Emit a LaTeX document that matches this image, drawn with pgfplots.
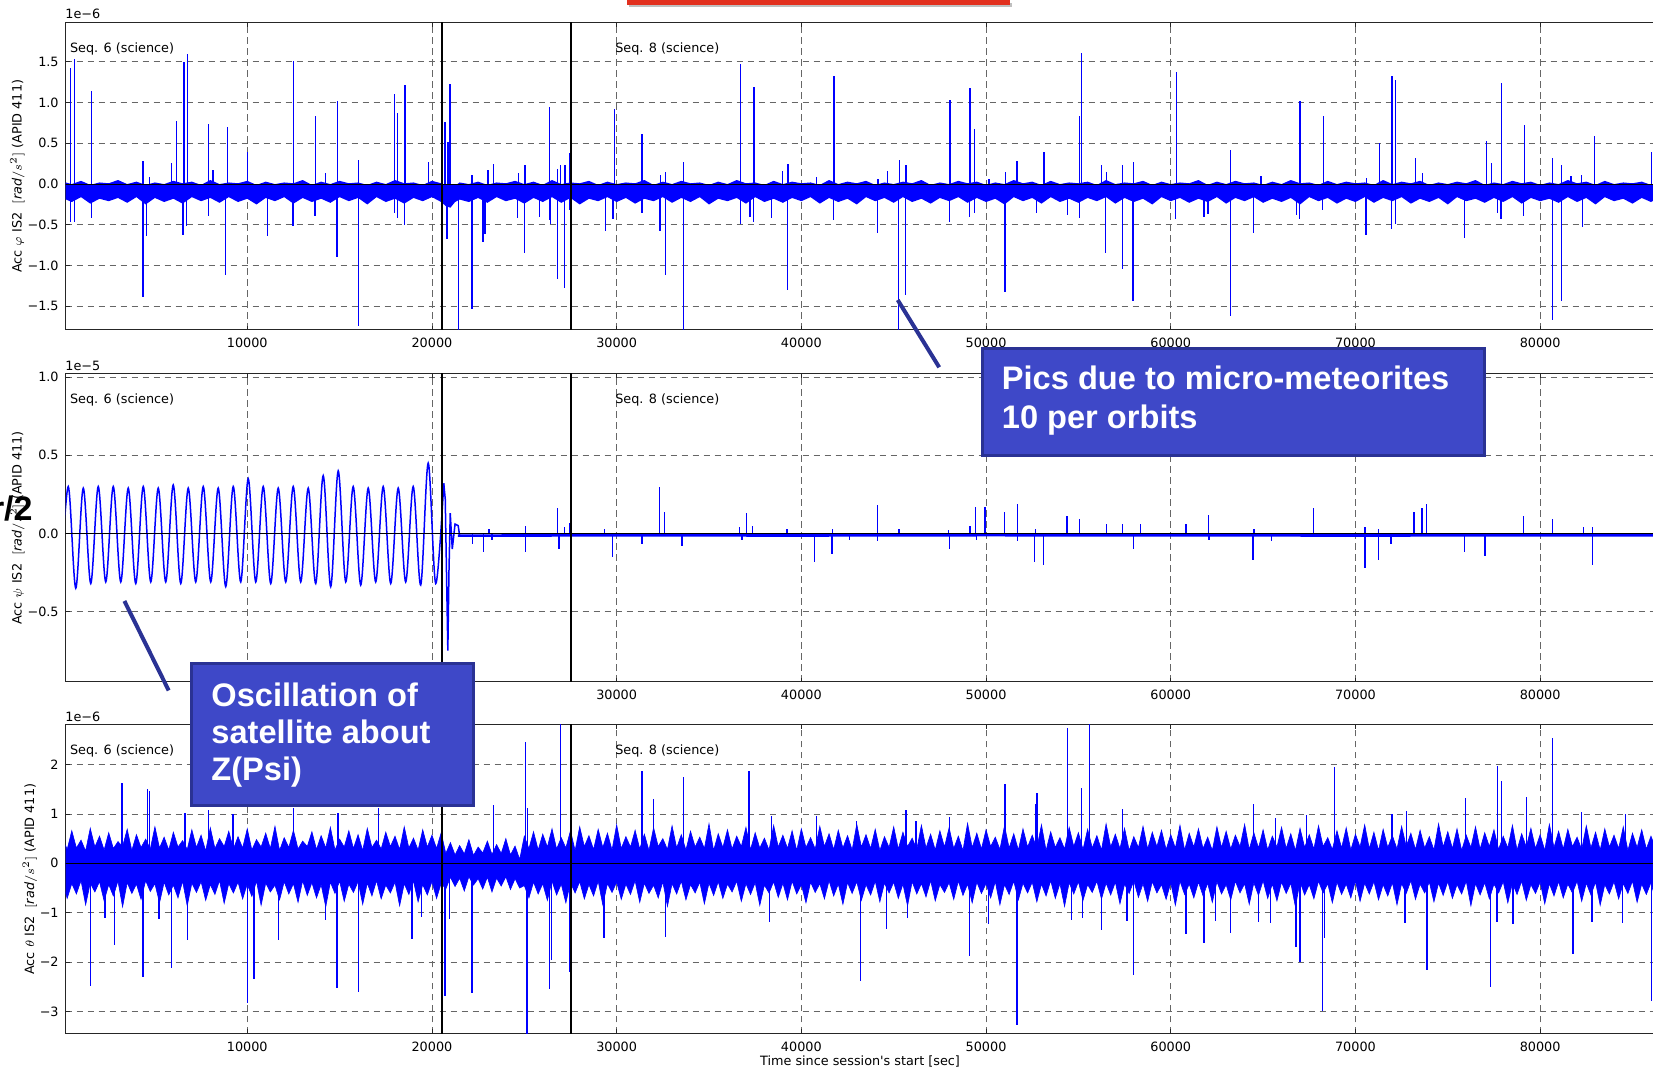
\documentclass[border=0pt]{standalone}
\usepackage{pgfplots}
\pgfplotsset{compat=1.18}
\usepackage{pgfplotstable}
\usepackage{fontspec}
\setmainfont{DejaVu Sans}
\newfontfamily\boxfont{Liberation Sans}
\definecolor{boxfill}{RGB}{62,72,200}
\definecolor{boxedge}{RGB}{42,50,148}
\definecolor{slidered}{RGB}{226,48,30}

\pgfplotstableread{
x up lo
0 0.03 -0.17
500 0.00 -0.22
1000 0.04 -0.16
1500 -0.01 -0.24
2000 0.02 -0.18
2500 0.01 -0.21
3000 0.05 -0.17
3500 0.00 -0.23
4000 0.03 -0.16
4500 -0.01 -0.25
5000 0.02 -0.17
5500 0.00 -0.22
6000 0.04 -0.18
6500 0.01 -0.24
7000 0.03 -0.16
7500 -0.01 -0.21
8000 0.05 -0.17
8500 0.00 -0.23
9000 0.02 -0.16
9500 0.01 -0.22
10000 0.04 -0.18
10500 -0.01 -0.25
11000 0.03 -0.17
11500 0.00 -0.21
12000 0.02 -0.16
12500 0.01 -0.24
13000 0.05 -0.17
13500 -0.01 -0.22
14000 0.03 -0.18
14500 0.00 -0.23
15000 0.04 -0.16
15500 0.01 -0.21
16000 0.02 -0.17
16500 -0.01 -0.25
17000 0.03 -0.16
17500 0.00 -0.22
18000 0.05 -0.18
18500 0.01 -0.24
19000 0.02 -0.17
19500 -0.01 -0.21
20000 0.04 -0.16
20500 0.01 -0.22
20750 -0.08 -0.27
21000 -0.05 -0.29
21250 -0.02 -0.22
21500 0.02 -0.19
22000 0.00 -0.22
22500 0.03 -0.17
23000 -0.01 -0.23
23500 0.02 -0.16
24000 0.01 -0.21
24500 0.04 -0.18
25000 0.00 -0.24
25500 0.03 -0.17
26000 -0.01 -0.22
26500 0.05 -0.16
27000 0.00 -0.23
27500 0.02 -0.17
28000 0.01 -0.25
28500 0.04 -0.18
29000 -0.01 -0.21
29500 0.03 -0.16
30000 0.00 -0.22
30500 0.02 -0.17
31000 0.01 -0.24
31500 0.05 -0.18
32000 -0.01 -0.21
32500 0.03 -0.16
33000 0.00 -0.23
33500 0.04 -0.17
34000 0.01 -0.22
34500 0.02 -0.16
35000 -0.01 -0.25
35500 0.03 -0.18
36000 0.00 -0.21
36500 0.05 -0.17
37000 0.01 -0.24
37500 0.02 -0.16
38000 -0.01 -0.22
38500 0.04 -0.18
39000 0.00 -0.23
39500 0.03 -0.17
40000 0.01 -0.21
40500 0.02 -0.16
41000 -0.01 -0.24
41500 0.05 -0.17
42000 0.00 -0.22
42500 0.03 -0.18
43000 0.01 -0.25
43500 0.04 -0.16
44000 -0.01 -0.21
44500 0.02 -0.17
45000 0.00 -0.23
45500 0.03 -0.16
46000 0.01 -0.22
46500 0.05 -0.18
47000 -0.01 -0.24
47500 0.02 -0.17
48000 0.00 -0.21
48500 0.04 -0.16
49000 0.01 -0.23
49500 0.03 -0.17
50000 -0.01 -0.22
50500 0.02 -0.18
51000 0.00 -0.25
51500 0.05 -0.16
52000 0.01 -0.21
52500 0.03 -0.17
53000 -0.01 -0.24
53500 0.04 -0.16
54000 0.00 -0.22
54500 0.02 -0.18
55000 0.01 -0.23
55500 0.03 -0.17
56000 -0.01 -0.21
56500 0.05 -0.16
57000 0.00 -0.24
57500 0.02 -0.17
58000 0.01 -0.22
58500 0.04 -0.18
59000 -0.01 -0.25
59500 0.03 -0.16
60000 0.00 -0.21
60500 0.02 -0.17
61000 0.01 -0.23
61500 0.05 -0.18
62000 -0.01 -0.22
62500 0.03 -0.16
63000 0.00 -0.24
63500 0.04 -0.17
64000 0.01 -0.21
64500 0.02 -0.16
65000 -0.01 -0.23
65500 0.03 -0.18
66000 0.00 -0.22
66500 0.05 -0.17
67000 0.01 -0.25
67500 0.02 -0.16
68000 -0.01 -0.21
68500 0.04 -0.17
69000 0.00 -0.24
69500 0.03 -0.18
70000 0.01 -0.22
70500 0.02 -0.16
71000 -0.01 -0.23
71500 0.05 -0.17
72000 0.00 -0.21
72500 0.03 -0.16
73000 0.01 -0.24
73500 0.04 -0.18
74000 -0.01 -0.22
74500 0.02 -0.17
75000 0.00 -0.25
75500 0.03 -0.16
76000 0.01 -0.21
76500 0.05 -0.18
77000 -0.01 -0.23
77500 0.02 -0.17
78000 0.00 -0.22
78500 0.04 -0.16
79000 0.01 -0.24
79500 0.03 -0.17
80000 -0.01 -0.21
80500 0.02 -0.18
81000 0.00 -0.23
81500 0.05 -0.16
82000 0.01 -0.22
82500 0.03 -0.17
83000 -0.01 -0.25
83500 0.04 -0.16
84000 0.00 -0.21
84500 0.02 -0.18
85000 0.01 -0.24
85500 0.03 -0.17
86000 -0.01 -0.22
86500 0.04 -0.16
87000 0.00 -0.23
}\topband

\pgfplotstableread{
x up lo
0 0.52 -0.38
250 0.28 -0.71
500 0.66 -0.41
750 0.31 -0.62
1000 0.47 -0.35
1250 0.25 -0.84
1500 0.71 -0.40
1750 0.33 -0.58
2000 0.55 -0.37
2250 0.27 -0.76
2500 0.62 -0.43
2750 0.30 -0.66
3000 0.44 -0.36
3250 0.34 -0.88
3500 0.69 -0.39
3750 0.26 -0.61
4000 0.58 -0.42
4250 0.32 -0.73
4500 0.49 -0.35
4750 0.29 -0.57
5000 0.74 -0.41
5250 0.31 -0.80
5500 0.53 -0.38
5750 0.27 -0.64
6000 0.63 -0.44
6250 0.33 -0.70
6500 0.46 -0.36
6750 0.28 -0.86
7000 0.68 -0.40
7250 0.32 -0.59
7500 0.57 -0.37
7750 0.25 -0.75
8000 0.72 -0.43
8250 0.30 -0.63
8500 0.50 -0.35
8750 0.34 -0.81
9000 0.65 -0.41
9250 0.29 -0.60
9500 0.54 -0.38
9750 0.31 -0.72
10000 0.70 -0.42
10250 0.27 -0.67
10500 0.48 -0.36
10750 0.33 -0.85
11000 0.61 -0.40
11250 0.30 -0.58
11500 0.75 -0.44
11750 0.26 -0.74
12000 0.52 -0.37
12250 0.32 -0.62
12500 0.67 -0.41
12750 0.29 -0.79
13000 0.45 -0.35
13250 0.34 -0.65
13500 0.64 -0.39
13750 0.28 -0.70
14000 0.56 -0.43
14250 0.31 -0.88
14500 0.73 -0.38
14750 0.27 -0.61
15000 0.49 -0.36
15250 0.33 -0.77
15500 0.66 -0.42
15750 0.30 -0.59
16000 0.58 -0.37
16250 0.26 -0.83
16500 0.71 -0.40
16750 0.32 -0.66
17000 0.47 -0.35
17250 0.29 -0.72
17500 0.63 -0.44
17750 0.34 -0.60
18000 0.55 -0.38
18250 0.28 -0.86
18500 0.74 -0.41
18750 0.31 -0.63
19000 0.51 -0.36
19250 0.27 -0.78
19500 0.68 -0.43
19750 0.33 -0.64
20000 0.57 -0.37
20250 0.30 -0.71
20500 0.62 -0.40
20750 0.20 -0.52
21000 0.42 -0.28
21250 0.17 -0.47
21500 0.36 -0.30
21750 0.19 -0.56
22000 0.48 -0.27
22250 0.16 -0.44
22500 0.33 -0.31
22750 0.21 -0.52
23000 0.45 -0.28
23250 0.18 -0.58
23500 0.38 -0.30
23750 0.20 -0.46
24000 0.50 -0.27
24250 0.17 -0.53
24500 0.35 -0.31
24750 0.08 -0.50
25000 0.55 -0.45
25250 0.30 -0.70
25500 0.64 -0.38
25750 0.27 -0.62
26000 0.59 -0.41
26250 0.33 -0.75
26500 0.70 -0.36
26750 0.29 -0.64
27000 0.52 -0.42
27250 0.31 -0.80
27500 0.66 -0.39
27750 0.26 -0.60
28000 0.74 -0.37
28250 0.34 -0.72
28500 0.56 -0.43
28750 0.28 -0.66
29000 0.69 -0.36
29250 0.32 -0.84
29500 0.61 -0.41
29750 0.27 -0.59
30000 0.78 -0.38
30250 0.30 -0.73
30500 0.54 -0.42
30750 0.33 -0.63
31000 0.67 -0.35
31250 0.29 -0.79
31500 0.59 -0.40
31750 0.26 -0.61
32000 0.72 -0.44
32250 0.34 -0.70
32500 0.50 -0.37
32750 0.28 -0.87
33000 0.76 -0.41
33250 0.31 -0.62
33500 0.58 -0.36
33750 0.27 -0.74
34000 0.65 -0.43
34250 0.33 -0.60
34500 0.53 -0.38
34750 0.30 -0.82
35000 0.80 -0.40
35250 0.26 -0.65
35500 0.60 -0.37
35750 0.32 -0.71
36000 0.68 -0.42
36250 0.29 -0.58
36500 0.55 -0.36
36750 0.34 -0.77
37000 0.73 -0.41
37250 0.28 -0.63
37500 0.62 -0.39
37750 0.31 -0.85
38000 0.51 -0.44
38250 0.27 -0.60
38500 0.77 -0.37
38750 0.33 -0.69
39000 0.57 -0.40
39250 0.30 -0.74
39500 0.66 -0.36
39750 0.26 -0.62
40000 0.70 -0.43
40250 0.32 -0.80
40500 0.52 -0.38
40750 0.29 -0.59
41000 0.75 -0.41
41250 0.34 -0.72
41500 0.60 -0.35
41750 0.28 -0.66
42000 0.67 -0.42
42250 0.31 -0.83
42500 0.56 -0.39
42750 0.27 -0.61
43000 0.79 -0.37
43250 0.33 -0.75
43500 0.58 -0.43
43750 0.30 -0.64
44000 0.69 -0.36
44250 0.26 -0.78
44500 0.54 -0.40
44750 0.32 -0.60
45000 0.74 -0.38
45250 0.29 -0.71
45500 0.63 -0.42
45750 0.34 -0.86
46000 0.51 -0.37
46250 0.28 -0.62
46500 0.77 -0.41
46750 0.31 -0.68
47000 0.59 -0.35
47250 0.27 -0.76
47500 0.66 -0.43
47750 0.33 -0.59
48000 0.72 -0.39
48250 0.30 -0.73
48500 0.55 -0.36
48750 0.26 -0.65
49000 0.81 -0.42
49250 0.32 -0.80
49500 0.61 -0.38
49750 0.29 -0.61
50000 0.68 -0.41
50250 0.34 -0.70
50500 0.53 -0.37
50750 0.28 -0.84
51000 0.76 -0.43
51250 0.31 -0.63
51500 0.60 -0.36
51750 0.27 -0.74
52000 0.70 -0.40
52250 0.33 -0.60
52500 0.57 -0.38
52750 0.30 -0.78
53000 0.78 -0.42
53250 0.26 -0.66
53500 0.64 -0.35
53750 0.32 -0.71
54000 0.52 -0.41
54250 0.29 -0.87
54500 0.73 -0.39
54750 0.34 -0.62
55000 0.62 -0.37
55250 0.28 -0.75
55500 0.69 -0.43
55750 0.31 -0.59
56000 0.56 -0.36
56250 0.27 -0.72
56500 0.80 -0.40
56750 0.33 -0.64
57000 0.59 -0.38
57250 0.30 -0.82
57500 0.71 -0.42
57750 0.26 -0.61
58000 0.54 -0.35
58250 0.32 -0.69
58500 0.75 -0.41
58750 0.29 -0.77
59000 0.63 -0.37
59250 0.34 -0.60
59500 0.67 -0.43
59750 0.28 -0.73
60000 0.58 -0.39
60250 0.31 -0.85
60500 0.77 -0.36
60750 0.27 -0.63
61000 0.61 -0.42
61250 0.33 -0.70
61500 0.70 -0.38
61750 0.30 -0.66
62000 0.53 -0.40
62250 0.26 -0.79
62500 0.74 -0.37
62750 0.32 -0.62
63000 0.65 -0.43
63250 0.29 -0.74
63500 0.57 -0.36
63750 0.34 -0.60
64000 0.79 -0.41
64250 0.28 -0.83
64500 0.62 -0.39
64750 0.31 -0.65
65000 0.68 -0.35
65250 0.27 -0.71
65500 0.55 -0.42
65750 0.33 -0.76
66000 0.73 -0.38
66250 0.30 -0.61
66500 0.60 -0.40
66750 0.26 -0.88
67000 0.71 -0.37
67250 0.32 -0.64
67500 0.58 -0.43
67750 0.29 -0.72
68000 0.76 -0.36
68250 0.34 -0.60
68500 0.52 -0.41
68750 0.28 -0.80
69000 0.66 -0.38
69250 0.31 -0.63
69500 0.72 -0.42
69750 0.27 -0.70
70000 0.59 -0.36
70250 0.33 -0.77
70500 0.78 -0.40
70750 0.30 -0.62
71000 0.63 -0.37
71250 0.26 -0.74
71500 0.69 -0.43
71750 0.32 -0.66
72000 0.56 -0.39
72250 0.29 -0.84
72500 0.75 -0.41
72750 0.34 -0.61
73000 0.61 -0.35
73250 0.28 -0.73
73500 0.67 -0.42
73750 0.31 -0.60
74000 0.54 -0.38
74250 0.27 -0.78
74500 0.80 -0.40
74750 0.33 -0.65
75000 0.64 -0.37
75250 0.30 -0.71
75500 0.70 -0.43
75750 0.26 -0.62
76000 0.57 -0.36
76250 0.32 -0.86
76500 0.74 -0.41
76750 0.29 -0.64
77000 0.62 -0.39
77250 0.34 -0.72
77500 0.68 -0.42
77750 0.28 -0.60
78000 0.55 -0.37
78250 0.31 -0.80
78500 0.77 -0.40
78750 0.27 -0.63
79000 0.60 -0.36
79250 0.33 -0.75
79500 0.71 -0.43
79750 0.30 -0.61
80000 0.58 -0.38
80250 0.26 -0.82
80500 0.79 -0.41
80750 0.32 -0.66
81000 0.65 -0.37
81250 0.29 -0.70
81500 0.69 -0.42
81750 0.34 -0.60
82000 0.53 -0.36
82250 0.28 -0.77
82500 0.76 -0.40
82750 0.31 -0.64
83000 0.63 -0.38
83250 0.27 -0.85
83500 0.70 -0.43
83750 0.33 -0.62
84000 0.57 -0.37
84250 0.30 -0.72
84500 0.74 -0.41
84750 0.26 -0.61
85000 0.61 -0.36
85250 0.32 -0.79
85500 0.68 -0.42
85750 0.29 -0.63
86000 0.55 -0.39
86250 0.31 -0.74
86500 0.72 -0.40
}\botband

\pgfplotsset{
  panel/.style={
    scale only axis, width=797.15pt,
    xmin=170, xmax=86490,
    scaled x ticks=false, scaled y ticks=false,
    xtick={10000,20000,30000,40000,50000,60000,70000,80000},
    xticklabels={10000,20000,30000,40000,50000,60000,70000,80000},
    grid=major,
    major grid style={black!60, line width=0.4pt, dash pattern=on 3.3pt off 2.2pt},
    axis line style={black!85, line width=0.5pt},
    tick align=inside, major tick length=2.2pt,
    tick style={black!85, line width=0.4pt},
    tick label style={font=\fontsize{6.4}{7.7}\selectfont},
    /pgf/number format/assume math mode=true,
    xticklabel style={yshift=-0.6pt},
    clip=true,
  },
  spike/.style={ycomb, blue, line width=0.65pt, mark=none},
  band/.style={fill=blue, draw=blue, line width=0.3pt, mark=none},
  tband/.style={fill=blue, draw=none, mark=none},
}

\begin{document}
\begin{tikzpicture}[x=1pt,y=1pt]

% ---------------- top panel ----------------
\begin{axis}[panel, at={(32.85pt,368.5pt)}, anchor=south west, height=153.65pt,
  ymin=-1.79, ymax=1.98,
  ytick={-1.5,-1,-0.5,0,0.5,1,1.5},
  yticklabels={−1.5,−1.0,−0.5,0.0,0.5,1.0,1.5}]
\addplot[tband] table[x=x,y=lo] {\topband} \closedcycle;
\addplot[tband] table[x=x,y=up] {\topband} \closedcycle;
\addplot[spike] coordinates {(437,1.43)(659,1.54)(1577,1.14)(4357,0.28)(4690,0.09)(5886,0.26)(6164,0.77)(6581,1.50)(6775,1.60)(7915,0.74)(8137,0.17)(8944,0.70)(10028,0.39)(12502,1.51)(13697,0.83)(14226,0.14)(14893,1.02)(16005,0.29)(17979,1.11)(18145,0.87)(18535,1.22)(19813,0.27)(20703,0.76)(20870,0.52)(20981,1.23)(22176,0.11)(23038,0.17)(23344,0.25)(24678,0.14)(25040,0.24)(26374,0.94)(26791,0.19)(26958,0.24)(27208,0.23)(27458,0.38)(29877,0.92)(31378,0.62)(32379,0.11)(32657,0.15)(33602,0.27)(36716,1.47)(37439,1.19)(38995,0.16)(39273,0.25)(40830,0.09)(41775,1.32)(44156,0.06)(44657,0.16)(45297,0.30)(45658,0.23)(48052,1.03)(49137,1.18)(49388,0.68)(50167,0.06)(51058,0.15)(51670,0.28)(53145,0.39)(55065,0.83)(55149,1.61)(56234,0.23)(56540,0.15)(57375,0.23)(57987,0.27)(60297,1.37)(63247,0.42)(64889,0.10)(67004,1.02)(68256,0.84)(70594,0.08)(71290,0.50)(71986,1.33)(72181,1.28)(73238,0.32)(73628,0.14)(77106,0.53)(77385,0.26)(77913,1.24)(79166,0.72)(80669,0.32)(81170,0.24)(81671,0.10)(82227,0.11)(82951,0.59)(86012,0.39)};
\addplot[spike] coordinates {(437,-0.46)(659,-0.47)(1549,-0.42)(4357,-1.39)(4552,-0.64)(6525,-0.62)(6720,-0.52)(7887,-0.39)(8805,-1.11)(11084,-0.64)(12474,-0.51)(13670,-0.39)(14865,-0.90)(16005,-1.74)(17979,-0.36)(18145,-0.41)(18507,-0.50)(20814,-0.67)(21426,-1.80)(22176,-1.53)(22760,-0.71)(22871,-0.61)(24623,-0.42)(25012,-0.85)(25818,-0.40)(26374,-0.44)(26430,-0.49)(26791,-1.17)(27180,-1.27)(27458,-0.32)(29377,-0.57)(29794,-0.43)(31378,-0.35)(32351,-0.58)(32629,-1.11)(33602,-1.80)(36688,-0.49)(37216,-0.40)(37411,-0.46)(38384,-0.42)(39246,-1.30)(41748,-0.44)(44128,-0.60)(45269,-1.80)(45631,-1.36)(48024,-0.47)(49109,-0.40)(49388,-0.35)(51030,-1.32)(52727,-0.36)(54397,-0.38)(55065,-0.41)(56457,-0.84)(57375,-1.04)(57959,-1.43)(60269,-0.43)(61800,-0.40)(62023,-0.37)(63219,-1.62)(64472,-0.60)(66809,-0.38)(66976,-0.43)(68201,-0.32)(70566,-0.63)(71958,-0.55)(72153,-0.49)(75910,-0.66)(77691,-0.36)(77886,-0.43)(79110,-0.39)(80669,-1.67)(81142,-1.43)(82311,-0.53)};
\addplot[black, line width=0.45pt] coordinates {(0,0) (90000,0)};
\addplot[black, line width=1pt] coordinates {(20525,-5) (20525,5)};
\addplot[black, line width=1pt] coordinates {(27525,-5) (27525,5)};
\node[anchor=west, inner sep=0, font=\fontsize{6.4}{7.7}\selectfont] at (rel axis cs:0.0025,0.916) {Seq. 6 (science)};
\node[anchor=west, inner sep=0, font=\fontsize{6.4}{7.7}\selectfont] at (rel axis cs:0.3445,0.916) {Seq. 8 (science)};
\end{axis}

% ---------------- middle panel ----------------
\begin{axis}[panel, at={(32.85pt,192.5pt)}, anchor=south west, height=154pt,
  ymin=-0.95, ymax=1.02,
  xticklabels={,,30000,40000,50000,60000,70000,80000},
  ytick={-0.5,0,0.5,1},
  yticklabels={−0.5,0.0,0.5,1.0}]
\addplot[blue, line width=0.75pt, smooth, tension=0.55] coordinates {(-97,-0.31)(309,0.30)(715,-0.35)(1121,0.29)(1527,-0.32)(1933,0.30)(2339,-0.31)(2745,0.30)(3151,-0.31)(3557,0.29)(3963,-0.32)(4369,0.30)(4775,-0.31)(5181,0.29)(5587,-0.31)(5993,0.31)(6399,-0.32)(6805,0.29)(7211,-0.31)(7617,0.30)(8023,-0.31)(8429,0.29)(8835,-0.34)(9241,0.30)(9647,-0.31)(10053,0.35)(10459,-0.31)(10865,0.30)(11271,-0.32)(11677,0.29)(12083,-0.31)(12489,0.30)(12895,-0.31)(13301,0.29)(13707,-0.32)(14113,0.37)(14519,-0.34)(14925,0.40)(15331,-0.31)(15737,0.30)(16143,-0.33)(16549,0.29)(16955,-0.31)(17361,0.30)(17767,-0.32)(18173,0.29)(18579,-0.31)(18985,0.30)(19391,-0.33)(19797,0.45)(20203,-0.32)(20640,0.32)};
\addplot[blue, line width=0.75pt] coordinates {(20640,0.32)(20720,0.22)(20860,-0.75)(20920,-0.25)(20990,0.13)(21100,-0.10)(21250,0.06)(21420,0.05)(21500,-0.015)};
\addplot[blue, line width=1.3pt] coordinates {(21400,-0.014)(25000,-0.013)(30000,-0.012)(40000,-0.013)(50000,-0.011)(60000,-0.012)(70000,-0.013)(80000,-0.012)(87000,-0.012)};
\addplot[spike] coordinates {(23083,0.03)(25047,0.05)(26798,0.16)(27182,0.04)(27438,0.07)(29360,0.03)(32306,0.30)(32605,0.14)(36661,0.04)(37046,0.13)(37344,0.05)(39223,0.03)(41700,0.03)(44134,0.18)(45287,0.03)(47977,0.02)(49130,0.05)(49429,0.17)(49941,0.17)(51008,0.14)(51692,0.19)(52674,0.03)(54382,0.11)(55065,0.09)(56517,0.06)(57371,0.06)(58353,0.06)(60829,0.06)(62025,0.12)(64502,0.03)(67747,0.16)(70522,0.04)(71248,0.03)(73170,0.14)(73597,0.16)(73853,0.19)(79105,0.11)(80685,0.09)(82350,0.04)(82820,0.04)};
\addplot[spike] coordinates {(22186,-0.07)(22784,-0.12)(23253,-0.045)(25047,-0.12)(26883,-0.10)(29787,-0.15)(31367,-0.07)(33544,-0.08)(36789,-0.04)(40718,-0.18)(41657,-0.13)(42596,-0.04)(44134,-0.05)(48020,-0.10)(49471,-0.04)(51692,-0.05)(52631,-0.18)(53101,-0.20)(57968,-0.10)(62068,-0.045)(64459,-0.17)(65441,-0.05)(70522,-0.22)(71248,-0.17)(71931,-0.07)(75902,-0.12)(77012,-0.145)(82820,-0.20)};
\addplot[black, line width=0.45pt] coordinates {(0,0) (90000,0)};
\addplot[black, line width=1pt] coordinates {(20525,-5) (20525,5)};
\addplot[black, line width=1pt] coordinates {(27525,-5) (27525,5)};
\node[anchor=west, inner sep=0, font=\fontsize{6.4}{7.7}\selectfont] at (rel axis cs:0.0025,0.916) {Seq. 6 (science)};
\node[anchor=west, inner sep=0, font=\fontsize{6.4}{7.7}\selectfont] at (rel axis cs:0.3445,0.916) {Seq. 8 (science)};
\end{axis}

% ---------------- bottom panel ----------------
\begin{axis}[panel, at={(32.85pt,16.85pt)}, anchor=south west, height=154.15pt,
  ymin=-3.44, ymax=2.80,
  ytick={-3,-2,-1,0,1,2},
  yticklabels={−3,−2,−1,0,1,2}]
\addplot[band] table[x=x,y=up] {\botband} \closedcycle;
\addplot[band] table[x=x,y=lo] {\botband} \closedcycle;
\addplot[spike] coordinates {(3217,1.63)(4607,1.50)(4690,1.47)(6636,1.02)(7915,1.08)(9222,1.0)(12502,1.13)(14921,1.01)(17117,1.13)(23316,1.18)(25068,2.46)(25179,1.12)(26958,2.85)(31378,1.87)(31990,1.30)(33602,1.75)(37161,1.87)(38384,0.96)(40830,0.96)(42987,0.86)(45658,1.08)(46215,0.86)(48024,0.93)(51030,1.60)(52672,1.21)(52755,1.43)(54397,2.73)(55149,1.53)(55594,2.85)(57375,1.09)(64472,1.21)(65668,0.92)(67338,0.98)(68869,1.95)(71986,0.99)(72765,1.06)(75966,1.33)(77691,1.97)(77913,1.66)(79249,1.35)(80669,2.53)(82227,1.04)(84620,1.0)};
\addplot[spike] coordinates {(1521,-2.49)(2301,-1.11)(2828,-1.66)(4357,-2.31)(5218,-1.12)(5886,-2.12)(6747,-1.55)(10028,-2.83)(10361,-2.34)(11696,-1.56)(14226,-1.14)(14865,-2.53)(16005,-2.61)(18924,-1.53)(19424,-1.08)(20703,-2.69)(20953,-1.13)(22176,-2.63)(25151,-3.5)(26346,-2.55)(26485,-1.95)(27458,-2.20)(29321,-1.52)(32629,-1.50)(38273,-1.19)(43220,-2.38)(44629,-1.33)(45742,-1.11)(49109,-1.87)(50139,-1.23)(51670,-3.27)(54620,-1.14)(55232,-1.10)(56262,-1.35)(57625,-1.16)(57987,-2.26)(60826,-1.43)(61800,-1.62)(62412,-1.16)(63219,-1.41)(64750,-1.19)(65418,-1.21)(66781,-1.70)(67004,-2.0)(68201,-2.98)(68312,-1.52)(72681,-1.21)(73878,-2.15)(77329,-2.50)(77663,-1.19)(78525,-1.23)(81782,-1.84)(82812,-1.18)(84454,-1.21)(86012,-2.78)};
\addplot[black, line width=0.45pt] coordinates {(0,0) (90000,0)};
\addplot[black, line width=1pt] coordinates {(20525,-5) (20525,5)};
\addplot[black, line width=1pt] coordinates {(27525,-5) (27525,5)};
\node[anchor=west, inner sep=0, font=\fontsize{6.4}{7.7}\selectfont] at (rel axis cs:0.0025,0.916) {Seq. 6 (science)};
\node[anchor=west, inner sep=0, font=\fontsize{6.4}{7.7}\selectfont] at (rel axis cs:0.3445,0.916) {Seq. 8 (science)};
\end{axis}

% exponent labels, y labels, x label
\begin{scope}[font=\fontsize{6.4}{7.7}\selectfont]
\node[anchor=west, inner sep=0] at (32.5,526.35) {1e−6};
\node[anchor=west, inner sep=0] at (32.5,350.5) {1e−5};
\node[anchor=west, inner sep=0] at (32.5,175.15) {1e−6};
\node[rotate=90] at (8.75,445.35) {Acc $\varphi$ IS2 \ $[\mathit{rad}/s^2]$ (APID 411)};
\node[rotate=90] at (8.75,269.5) {Acc $\psi$ IS2 \ $[\mathit{rad}/s^2]$ (APID 411)};
\node[rotate=90] at (15,93.9) {Acc $\theta$ IS2 \ $[\mathit{rad}/s^2]$ (APID 411)};
\node at (430,2.9) {Time since session\textquotesingle s start [sec]};
\end{scope}

% slide overlays
\fill[black!25] (314.5,529.8) rectangle (506,532);
\fill[slidered] (313.5,531.2) rectangle (505,540);
\node[anchor=east, inner sep=0, font=\boxfont\bfseries\fontsize{17}{17}\selectfont] at (16.5,279) {r/2};

\draw[boxedge, line width=2pt] (62.2,233) -- (84.35,188.25);
\draw[boxedge, line width=2pt] (448.85,383.5) -- (469.6,349.85);

\draw[boxedge, fill=boxfill, line width=1.5pt] (95.75,130.75) rectangle (236.95,201.75);
\begin{scope}[font=\boxfont\bfseries\fontsize{16.3}{19}\selectfont, text=white]
\node[anchor=base west, inner sep=0] at (105.5,180.15) {Oscillation of};
\node[anchor=base west, inner sep=0] at (105.5,161.85) {satellite about};
\node[anchor=base west, inner sep=0] at (105.5,143.4) {Z(Psi)};
\end{scope}

\draw[boxedge, fill=boxfill, line width=1.5pt] (491.1,305.9) rectangle (742.1,359.4);
\begin{scope}[font=\boxfont\bfseries\fontsize{16.3}{19}\selectfont, text=white]
\node[anchor=base west, inner sep=0] at (500.75,338.5) {Pics due to micro-meteorites};
\node[anchor=base west, inner sep=0] at (500.75,319.3) {10 per orbits};
\end{scope}

\pgfresetboundingbox
\useasboundingbox (0,0) rectangle (826.5,533.5);
\end{tikzpicture}
\end{document}
